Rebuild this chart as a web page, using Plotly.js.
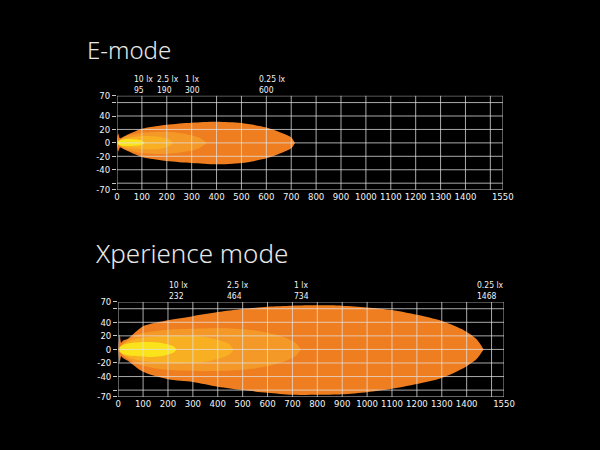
<!DOCTYPE html>
<html>
<head>
<meta charset="utf-8">
<script src="https://cdn.plot.ly/plotly-3.0.1.min.js"></script>
<style>
  html, body { margin: 0; padding: 0; background: #000; }
  #chart { width: 600px; height: 450px; }
</style>
</head>
<body>
<div id="chart"></div>
<script>
// Distance axis (m) and lateral axis (m) ticks
const xTickVals = [0, 100, 200, 300, 400, 500, 600, 700, 800, 900, 1000, 1100, 1200, 1300, 1400, 1500, 1550];
const xTickText = ['0', '100', '200', '300', '400', '500', '600', '700', '800', '900', '1000', '1100', '1200', '1300', '1400', '', '1550'];
const yTickVals = [-70, -60, -40, -20, 0, 20, 40, 60, 70];
const yTickText = ['-70', '', '-40', '-20', '0', '20', '40', '', '70'];

// Illuminance levels, outermost first
const luxLevels = ['0.25 lx', '1 lx', '2.5 lx', '10 lx'];
const luxColors = ['#EF7E20', '#F49828', '#F8AF22', '#FBE31C'];

// E-mode: distance reached at each level
const eModeReach = [600, 300, 190, 95];
// E-mode isolux outlines: distance, upper edge, lower edge
const eOuterX = [0, 5, 12, 30, 100, 200, 300, 400, 500, 600, 660, 700, 715];
const eOuterUp = [4, 14, 7, 10, 21, 27, 30, 31.5, 29.5, 23, 15, 8, 0];
const eOuterLo = [-4, -13, -7, -10, -21, -27, -30, -32, -30, -23, -15, -8, 0];
const e1X = [10, 30, 100, 200, 280, 330, 360];
const e1Up = [3, 9, 15, 16.5, 13, 8, 0];
const e1Lo = [-3, -9, -15, -16.5, -13, -8, 0];
const e25X = [8, 30, 100, 170, 210, 226];
const e25Up = [3, 7, 10, 9, 5, 0];
const e25Lo = [-3, -7, -9.5, -9, -5, 0];
const e10X = [4, 20, 60, 95, 112];
const e10Up = [2.5, 5, 5.5, 4, 0];
const e10Lo = [-2.5, -4.5, -4.5, -3.5, 0];

// Xperience mode: distance reached at each level
const xModeReach = [1468, 734, 464, 232];
// Xperience mode isolux outlines
const xOuterX = [0, 6, 12, 20, 40, 100, 200, 300, 400, 500, 600, 700, 800, 900, 1000, 1100, 1200, 1300, 1380, 1440, 1468];
const xOuterUp = [3, 22, 10, 13, 16, 34, 43, 49, 55, 59.5, 63, 64.5, 65, 64.5, 62, 58, 51, 42, 30, 15, 0];
const xOuterLo = [-3, -20, -10, -13, -17, -33, -44, -48, -55, -60, -64, -67, -67, -66, -63, -58, -51, -42, -29, -14, 0];
const x1X = [8, 30, 80, 150, 250, 350, 450, 550, 620, 680, 715, 734];
const x1Up = [4, 12, 22, 27, 30, 31, 31, 28, 23, 16, 9, 0];
const x1Lo = [-4, -12, -22, -28, -31, -32, -31, -28, -23, -16, -9, 0];
const x25X = [8, 30, 80, 150, 250, 350, 410, 445, 464];
const x25Up = [4, 10, 16, 19, 20, 18, 13, 8, 0];
const x25Lo = [-4, -10, -16, -19, -20, -18, -13, -8, 0];
const x10X = [5, 20, 60, 120, 170, 205, 225, 233];
const x10Up = [3, 7, 10, 11, 10, 7, 4, 0];
const x10Lo = [-3, -7, -9.5, -11, -10, -7, -4, 0];

function outline(xs, up, lo, color, xa, ya) {
  return {
    type: 'scatter', mode: 'lines',
    x: xs.concat(xs.slice().reverse()),
    y: up.concat(lo.slice().reverse()),
    fill: 'toself', fillcolor: color,
    line: { width: 0, color: color, shape: 'spline', smoothing: 0.8 },
    xaxis: xa, yaxis: ya, hoverinfo: 'skip', showlegend: false
  };
}

const data = [
  outline(eOuterX, eOuterUp, eOuterLo, luxColors[0], 'x', 'y'),
  outline(e1X, e1Up, e1Lo, luxColors[1], 'x', 'y'),
  outline(e25X, e25Up, e25Lo, luxColors[2], 'x', 'y'),
  outline(e10X, e10Up, e10Lo, luxColors[3], 'x', 'y'),
  outline(xOuterX, xOuterUp, xOuterLo, luxColors[0], 'x2', 'y2'),
  outline(x1X, x1Up, x1Lo, luxColors[1], 'x2', 'y2'),
  outline(x25X, x25Up, x25Lo, luxColors[2], 'x2', 'y2'),
  outline(x10X, x10Up, x10Lo, luxColors[3], 'x2', 'y2')
];

const narrow = 'Liberation Sans Narrow, DejaVu Sans Condensed, sans-serif';
const tickFont = { family: narrow, size: 9.5, color: '#f4f4f4' };
const gridColor = 'rgba(225,225,225,0.75)';

function xAxis(domain, anchor) {
  return {
    domain: domain, anchor: anchor, range: [0, 1550],
    tickmode: 'array', tickvals: xTickVals, ticktext: xTickText,
    showgrid: false, zeroline: false, showline: false, ticks: '',
    tickfont: tickFont, fixedrange: true
  };
}
function yAxis(domain, anchor) {
  return {
    domain: domain, anchor: anchor, range: [-70, 70],
    tickmode: 'array', tickvals: yTickVals, ticktext: yTickText,
    showgrid: false, zeroline: false, showline: false,
    ticks: 'outside', ticklen: 4, tickcolor: '#c8c8c8', tickwidth: 1,
    tickfont: tickFont, fixedrange: true
  };
}

// Grid drawn above the beam fills
const shapes = [];
[['x', 'y'], ['x2', 'y2']].forEach(function (ax) {
  xTickVals.forEach(function (v) {
    shapes.push({ type: 'line', layer: 'above', xref: ax[0], yref: ax[1] + ' domain',
      x0: v, x1: v, y0: 0, y1: 1, line: { color: gridColor, width: 1 } });
  });
  yTickVals.forEach(function (v) {
    shapes.push({ type: 'line', layer: 'above', xref: ax[0] + ' domain', yref: ax[1],
      x0: 0, x1: 1, y0: v, y1: v, line: { color: gridColor, width: 1 } });
  });
});

const labelFont = { family: narrow, size: 8.5, color: '#f4f4f4' };
const titleFont = { family: 'Noto Sans, sans-serif', size: 24, color: '#e8e8e8', weight: 300 };

const annotations = [
  { text: 'E-mode', xref: 'paper', yref: 'paper', x: 0.141, y: 0.889, xanchor: 'left', yanchor: 'middle',
    showarrow: false, font: titleFont },
  { text: 'Xperience mode', xref: 'paper', yref: 'paper', x: 0.157, y: 0.437, xanchor: 'left', yanchor: 'middle',
    showarrow: false, font: Object.assign({}, titleFont, { size: 26 }) }
];

// Level name over reach distance, placed at each reach position
function reachLabels(levels, reach, xref, top) {
  levels.forEach(function (lvl, i) {
    annotations.push({ text: lvl + '<br>' + reach[i], xref: xref, yref: 'paper', x: reach[i], y: top,
      xanchor: 'left', yanchor: 'bottom', align: 'left', xshift: -8, borderpad: 0,
      showarrow: false, font: labelFont });
  });
}
reachLabels(luxLevels, eModeReach, 'x', 0.787);
reachLabels(luxLevels, xModeReach, 'x2', 0.329);

const layout = {
  width: 600, height: 450,
  margin: { l: 0, r: 0, t: 0, b: 0 },
  paper_bgcolor: '#000', plot_bgcolor: '#000',
  showlegend: false,
  xaxis: xAxis([0.195, 0.838], 'y'),
  yaxis: yAxis([0.578, 0.787], 'x'),
  xaxis2: xAxis([0.197, 0.840], 'y2'),
  yaxis2: yAxis([0.118, 0.329], 'x2'),
  shapes: shapes,
  annotations: annotations
};

Plotly.newPlot('chart', data, layout, { displayModeBar: false, staticPlot: true });
</script>
</body>
</html>
